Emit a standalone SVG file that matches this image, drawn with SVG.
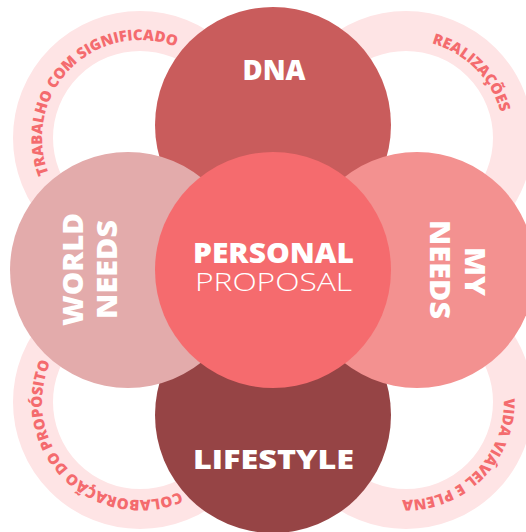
<svg xmlns="http://www.w3.org/2000/svg" width="526" height="532" viewBox="0 0 526 532">
<style>
.ring{fill:none;stroke:#FEE4E5;stroke-width:40}
.rt{font-family:"Open Sans","Liberation Sans",sans-serif;font-weight:800;font-size:15px;fill:#F46B6E}
.lb{font-family:"Open Sans","Liberation Sans",sans-serif;font-weight:800;font-size:28px;fill:#FFFFFF;text-anchor:middle}
.lt{font-family:"Open Sans","Liberation Sans",sans-serif;font-weight:300;font-size:26px;fill:#FFFFFF;text-anchor:middle}
</style>
<defs>
<path id="pTL" d="M83.8,218.3 A98,98 0 1 1 220.3,81.8"/>
<path id="pTR" d="M325.7,81.8 A98,98 0 1 1 462.2,218.3"/>
<path id="pBL" d="M220.3,458.2 A98,98 0 1 1 83.8,321.7"/>
<path id="pBR" d="M462.2,321.7 A98,98 0 1 1 325.7,458.2"/>
</defs>
<rect width="526" height="532" fill="#FFFFFF"/>
<g id="ring-trabalho">
<circle class="ring" cx="140" cy="138" r="107"/>
<text class="rt" text-anchor="middle"><textPath href="#pTL" startOffset="50%">TRABALHO COM SIGNIFICADO</textPath></text>
</g>
<g id="ring-realizacoes">
<circle class="ring" cx="406" cy="138" r="107"/>
<text class="rt" text-anchor="middle"><textPath href="#pTR" startOffset="50%">REALIZAÇÕES</textPath></text>
</g>
<g id="ring-colaboracao">
<circle class="ring" cx="140" cy="402" r="107"/>
<text class="rt" text-anchor="middle"><textPath href="#pBL" startOffset="50%">COLABORAÇÃO DO PROPÓSITO</textPath></text>
</g>
<g id="ring-vida">
<circle class="ring" cx="406" cy="402" r="107"/>
<text class="rt" text-anchor="middle"><textPath href="#pBR" startOffset="50%">VIDA VIÁVEL E PLENA</textPath></text>
</g>
<g id="connectors"></g>
<g id="dna">
<circle cx="273" cy="125" r="118" fill="#C95C5C"/>
<text class="lb" x="274" y="80" textLength="63" lengthAdjust="spacingAndGlyphs">DNA</text>
</g>
<g id="lifestyle">
<circle cx="273" cy="415" r="118" fill="#964445"/>
<text class="lb" x="273.5" y="469" font-size="26" style="font-size:26px" textLength="161" lengthAdjust="spacingAndGlyphs">LIFESTYLE</text>
</g>
<g id="world-needs">
<circle cx="128" cy="270" r="118" fill="#E3ABAB"/>
<text class="lb" transform="translate(83,269.5) rotate(-90)" x="0" y="0" textLength="113" lengthAdjust="spacingAndGlyphs">WORLD</text>
<text class="lb" transform="translate(117,269.5) rotate(-90)" x="0" y="0" textLength="99" lengthAdjust="spacingAndGlyphs">NEEDS</text>
</g>
<g id="my-needs">
<circle cx="417" cy="270" r="118" fill="#F39190"/>
<text class="lb" transform="translate(465,271.5) rotate(90)" x="0" y="0" textLength="49" lengthAdjust="spacingAndGlyphs">MY</text>
<text class="lb" transform="translate(430,269.5) rotate(90)" x="0" y="0" textLength="99" lengthAdjust="spacingAndGlyphs">NEEDS</text>
</g>
<g id="personal-proposal">
<circle cx="273" cy="270" r="118" fill="#F56B6E"/>
<text class="lb" x="273.5" y="263" textLength="161" lengthAdjust="spacingAndGlyphs">PERSONAL</text>
<text class="lt" x="273.5" y="291" textLength="157" lengthAdjust="spacingAndGlyphs">PROPOSAL</text>
</g>
</svg>
